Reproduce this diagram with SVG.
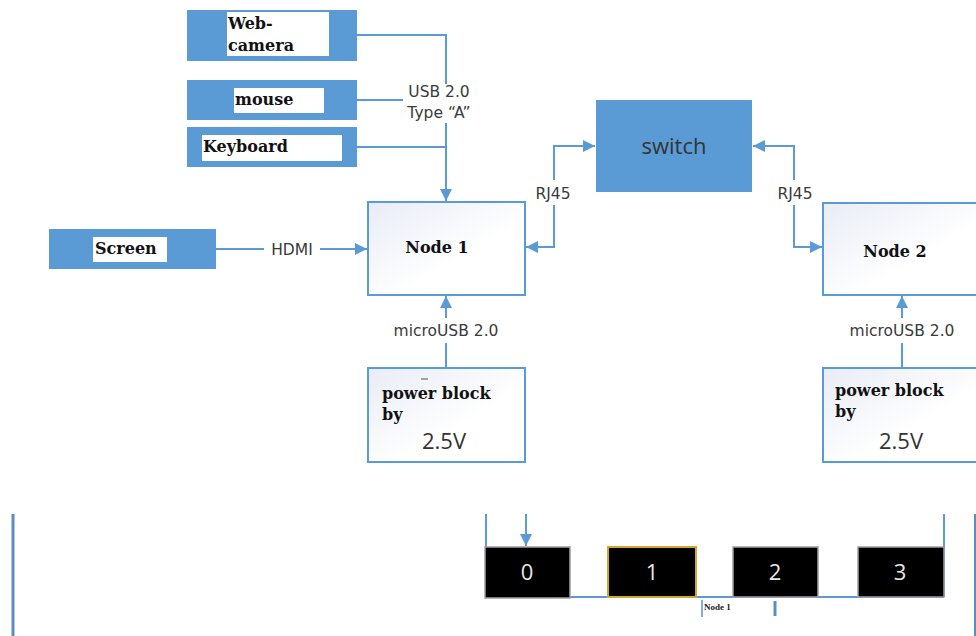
<svg xmlns="http://www.w3.org/2000/svg" width="976" height="636" viewBox="0 0 976 636">
<style>
.blue{fill:#5b9bd5}
.wbox{fill:#ffffff}
.node{fill:url(#ng);stroke:#5b9bd5;stroke-width:2}
.ln{fill:none;stroke:#5b9bd5;stroke-width:2}
.bt{font-family:"DejaVu Serif","Liberation Serif",serif;font-weight:bold;font-size:16px;fill:#111}
.lb{font-family:"DejaVu Sans","Noto Sans",sans-serif;font-size:15.5px;fill:#3a3a3a}
.big{font-family:"Open Sans","Noto Sans",sans-serif;font-size:22px;fill:#333}
.blk{fill:#000;stroke:#a0a0a0;stroke-width:1.5}
.dg{font-family:"Open Sans","Noto Sans",sans-serif;font-size:22px;fill:#e8e8e8}
</style>
<defs>
<linearGradient id="ng" x1="0" y1="0" x2="1" y2="1">
<stop offset="0" stop-color="#e8ecf6"/>
<stop offset="0.6" stop-color="#ffffff"/>
</linearGradient>
<marker id="ah" viewBox="0 0 10 10" refX="10" refY="5" markerWidth="6" markerHeight="6" orient="auto" markerUnits="strokeWidth">
<path d="M0,0 L10,5 L0,10 z" fill="#5b9bd5"/>
</marker>
</defs>
<rect width="976" height="636" fill="#ffffff"/>

<g id="connectors">
<path class="ln" d="M357,35 H446 V84"/>
<path class="ln" d="M357,100 H403"/>
<path class="ln" d="M357,147 H446"/>
<path class="ln" d="M446,123 V201" marker-end="url(#ah)"/>
<path class="ln" d="M216,249 H264"/>
<path class="ln" d="M320,249 H367" marker-end="url(#ah)"/>
<path class="ln" d="M446,368 V343"/>
<path class="ln" d="M446,318 V296" marker-end="url(#ah)"/>
<path class="ln" d="M902,368 V343"/>
<path class="ln" d="M902,318 V296" marker-end="url(#ah)"/>
<path class="ln" d="M554,205 V247 H526" marker-end="url(#ah)"/>
<path class="ln" d="M554,180 V146 H595" marker-end="url(#ah)"/>
<path class="ln" d="M794,180 V146 H753" marker-end="url(#ah)"/>
<path class="ln" d="M794,205 V247 H822" marker-end="url(#ah)"/>
<text class="lb" x="439" y="97" text-anchor="middle">USB 2.0</text>
<text class="lb" x="439" y="118" text-anchor="middle">Type “A”</text>
<text class="lb" x="292" y="255" text-anchor="middle">HDMI</text>
<text class="lb" x="446" y="336" text-anchor="middle">microUSB 2.0</text>
<text class="lb" x="902" y="336" text-anchor="middle">microUSB 2.0</text>
<text class="lb" x="553" y="199" text-anchor="middle">RJ45</text>
<text class="lb" x="795" y="199" text-anchor="middle">RJ45</text>
</g>

<g id="webcam">
<rect class="blue" x="187" y="10" width="170" height="51"/>
<rect class="wbox" x="227" y="12" width="102" height="44"/>
<text class="bt" x="228" y="29">Web-</text>
<text class="bt" x="228" y="51">camera</text>
</g>
<g id="mouse">
<rect class="blue" x="187" y="80" width="170" height="40"/>
<rect class="wbox" x="234" y="88" width="90" height="25"/>
<text class="bt" x="235" y="105">mouse</text>
</g>
<g id="keyboard">
<rect class="blue" x="187" y="127" width="170" height="40"/>
<rect class="wbox" x="202" y="135" width="140" height="26"/>
<text class="bt" x="203" y="152">Keyboard</text>
</g>
<g id="screen">
<rect class="blue" x="49" y="229" width="167" height="40"/>
<rect class="wbox" x="93" y="237" width="74" height="25"/>
<text class="bt" x="95" y="254">Screen</text>
</g>
<g id="node1">
<rect class="node" x="368" y="202" width="157" height="93"/>
<text class="bt" x="437" y="253" text-anchor="middle">Node 1</text>
</g>
<g id="switch">
<rect class="blue" x="596" y="100" width="156" height="92"/>
<text class="big" x="674" y="154" text-anchor="middle">switch</text>
</g>
<g id="node2">
<rect class="node" x="823" y="203" width="160" height="92"/>
<text class="bt" x="895" y="257" text-anchor="middle">Node 2</text>
</g>
<g id="power1">
<rect class="node" x="368" y="368" width="157" height="94"/>
<path d="M421,379 H428" stroke="#555" stroke-width="1"/>
<text class="bt" x="382" y="399">power block</text>
<text class="bt" x="382" y="420">by</text>
<text class="big" x="444" y="449" text-anchor="middle">2.5V</text>
</g>
<g id="power2">
<rect class="node" x="823" y="368" width="160" height="94"/>
<text class="bt" x="835" y="396">power block</text>
<text class="bt" x="835" y="417">by</text>
<text class="big" x="901" y="449" text-anchor="middle">2.5V</text>
</g>

<g id="bottom">
<path d="M13,514 V636" stroke="#5b8fc4" stroke-width="3"/>
<path d="M975,514 V636" stroke="#5b8fc4" stroke-width="2"/>
<path class="ln" d="M486,514 V548"/>
<path class="ln" d="M944,514 V597"/>
<path class="ln" d="M570,597 H944"/>
<path class="ln" d="M526,514 V546" marker-end="url(#ah)"/>
<rect class="blk" x="485" y="547" width="85" height="51"/>
<text class="dg" x="527" y="580" text-anchor="middle">0</text>
<rect x="608" y="547" width="88" height="50" fill="#000" stroke="#d4a62a" stroke-width="2"/>
<text class="dg" x="652" y="580" text-anchor="middle">1</text>
<rect class="blk" x="733" y="547" width="85" height="50"/>
<text class="dg" x="775" y="580" text-anchor="middle">2</text>
<rect class="blk" x="858" y="547" width="86" height="50"/>
<text class="dg" x="900" y="580" text-anchor="middle">3</text>
<path d="M702,600 V617" stroke="#5b8fc4" stroke-width="1.5"/>
<path d="M775,601 V616" stroke="#5b8fc4" stroke-width="3"/>
<text x="704" y="610" font-family="Liberation Serif,serif" font-weight="bold" font-size="9px" fill="#222">Node 1</text>
</g>
</svg>
